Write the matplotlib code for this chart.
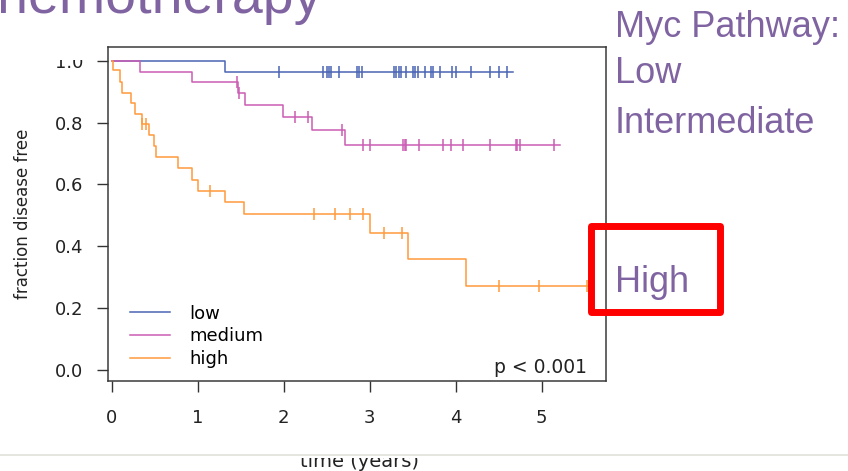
import numpy as np
import matplotlib.pyplot as plt
from matplotlib.patches import Rectangle
from matplotlib.lines import Line2D

# Kaplan-Meier data (time in years, fraction disease free)
low_times = [0.0, 1.32]
low_surv = [1.0, 0.965]
low_end = 4.67
low_censor = [1.95, 2.46, 2.51, 2.53, 2.55, 2.65, 2.85, 2.88, 2.91, 3.28, 3.31,
              3.34, 3.37, 3.43, 3.50, 3.53, 3.56, 3.64, 3.72, 3.74, 3.82, 3.96,
              4.00, 4.18, 4.40, 4.50, 4.60]

med_times = [0.0, 0.33, 0.93, 1.474, 1.55, 1.99, 2.33, 2.72]
med_surv = [1.0, 0.965, 0.931, 0.895, 0.858, 0.818, 0.777, 0.728]
med_end = 5.22
med_censor = [1.455, 1.486, 2.13, 2.29, 2.685, 2.93, 3.00, 3.395, 3.41, 3.425,
              3.57, 3.86, 3.95, 4.09, 4.40, 4.70, 4.72, 4.745, 5.14]

high_times = [0.0, 0.02, 0.10, 0.12, 0.23, 0.27, 0.35, 0.44, 0.49, 0.52, 0.77,
              0.94, 1.01, 1.32, 1.54, 3.01, 3.45, 4.12]
high_surv = [1.0, 0.969, 0.933, 0.897, 0.863, 0.828, 0.796, 0.761, 0.723, 0.688,
             0.653, 0.615, 0.580, 0.543, 0.505, 0.444, 0.358, 0.272]
high_end = 5.56
high_censor = [0.36, 0.40, 1.14, 2.36, 2.60, 2.77, 2.92, 3.17, 3.38, 4.50, 4.97, 5.53]

groups = ["low", "medium", "high"]
colors = ["#4a64b4", "#cc5cb4", "#ff9a3c"]
purple = "#8064a2"

W, H = 848, 471


def fx(x):
    return x / W


def fy(y):
    return 1 - y / H


fig = plt.figure(figsize=(W / 100, H / 100), dpi=100)
ax = fig.add_axes([fx(108), fy(381), fx(606) - fx(108), fy(47) - fy(381)])

curves = [(low_times, low_surv, low_end, low_censor),
          (med_times, med_surv, med_end, med_censor),
          (high_times, high_surv, high_end, high_censor)]

for (times, surv, end, cens), name, col in zip(curves, groups, colors):
    t = list(times) + [end]
    s = list(surv) + [surv[-1]]
    ax.step(t, s, where="post", color=col, lw=1.1, label=name)
    idx = np.searchsorted(times, cens, side="right") - 1
    ax.plot(cens, np.array(surv)[idx], ls="none", marker="|", ms=9, mew=1.1,
            color=col)

ax.set_xlim(-0.041, 5.75)
ax.set_ylim(-0.036, 1.045)
ax.set_xticks(range(6))
ax.set_yticks([0.0, 0.2, 0.4, 0.6, 0.8, 1.0])
ax.set_yticklabels(["0.0", "0.2", "0.4", "0.6", "0.8", "1.0"])
ax.tick_params(axis="x", length=8, width=1, pad=12, labelsize=13,
               color="#333333", labelcolor="#222222")
ax.tick_params(axis="y", length=8, width=1, pad=10, labelsize=13,
               color="#333333", labelcolor="#222222")
for sp in ax.spines.values():
    sp.set_color("#3a3a3a")
    sp.set_linewidth(1.1)

ax.legend(loc="upper left", bbox_to_anchor=(0.044, 0.229), frameon=False,
          fontsize=13, handlelength=2.2, handletextpad=1.1, labelspacing=0.27,
          borderpad=0, borderaxespad=0)
ax.text(0.962, 0.024, "p < 0.001", transform=ax.transAxes, ha="right",
        va="baseline", fontsize=13.5, color="#222222")

fig.text(fx(23), fy(214), "fraction disease free", rotation=90, ha="center",
         va="center", fontsize=12, color="#222222")

# slide elements around the chart
fig.patches.append(Rectangle((0, fy(59.5)), fx(100), 1 - fy(59.5),
                             transform=fig.transFigure, facecolor="white",
                             edgecolor="none", zorder=2))
fig.text(fx(322), fy(13), "Chemotherapy", ha="right", va="baseline",
         fontsize=40, color=purple, family="Liberation Sans", zorder=4)

fig.text(fx(359), fy(467), "time (years)", ha="center", va="baseline",
         fontsize=14, color="#222222", zorder=3)
fig.patches.append(Rectangle((fx(250), fy(457.5)), fx(230), fy(430) - fy(457.5),
                             transform=fig.transFigure, facecolor="white",
                             edgecolor="none", zorder=4))
fig.lines.append(Line2D([0, 1], [fy(455), fy(455)], transform=fig.transFigure,
                        color="#e2e2da", lw=1.2, zorder=5))

side = [("Myc Pathway:", 37), ("Low", 83), ("Intermediate", 133), ("High", 292)]
for txt, base in side:
    fig.text(fx(615), fy(base), txt, ha="left", va="baseline", fontsize=26,
             color=purple, family="Liberation Sans")

fig.patches.append(Rectangle((fx(590.5), fy(311.5)), fx(129), fy(225.5) - fy(311.5),
                             transform=fig.transFigure, facecolor="none",
                             edgecolor="#ff0000", lw=5, joinstyle="round",
                             zorder=6))

fig.savefig("out.png", dpi=100)
